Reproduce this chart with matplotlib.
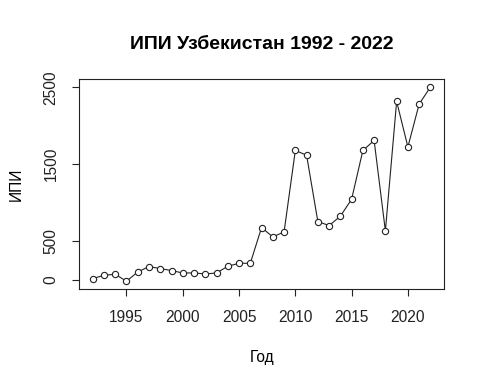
import matplotlib
matplotlib.use("Agg")
import matplotlib.pyplot as plt

plt.rcParams['font.family'] = ['Liberation Sans', 'DejaVu Sans']

# values
years = list(range(1992, 2023))
ipi = [13, 56, 69, -22, 99, 169, 143, 117, 86, 86, 73, 86, 173, 212, 212,
       677, 555, 620, 1680, 1618, 755, 703, 824, 1045, 1680, 1810, 633,
       2318, 1726, 2283, 2504]
x_ticks = [1995, 2000, 2005, 2010, 2015, 2020]
y_ticks = [0, 500, 1500, 2500]

fig = plt.figure(figsize=(4.86, 3.89), dpi=100)
ax = fig.add_axes([0.163, 0.257, 0.7504, 0.539])

ax.plot(years, ipi, color='#222222', linewidth=0.8)
ax.plot(years, ipi, linestyle='none', marker='o', markersize=4.5,
        markerfacecolor='white', markeredgecolor='#222222', markeredgewidth=0.8)

ax.set_xlim(1990.8, 2023.2)
ax.set_ylim(-123, 2605)
ax.set_xticks(x_ticks)
ax.set_yticks(y_ticks)
ax.set_yticklabels([str(v) for v in y_ticks], rotation=90, va='center')
ax.tick_params(labelsize=11.2, length=5, width=0.8, pad=10, colors='#222222')

for side in ['top', 'right', 'bottom', 'left']:
    ax.spines[side].set_linewidth(0.8)
    ax.spines[side].set_color('#222222')

ax.set_title('ИПИ Узбекистан 1992 - 2022', fontsize=14, fontweight='bold', pad=22)
ax.set_xlabel('Год', fontsize=11.2, labelpad=18)
ax.set_ylabel('ИПИ', fontsize=11.2, labelpad=14)

fig.savefig('out.png', dpi=100)
